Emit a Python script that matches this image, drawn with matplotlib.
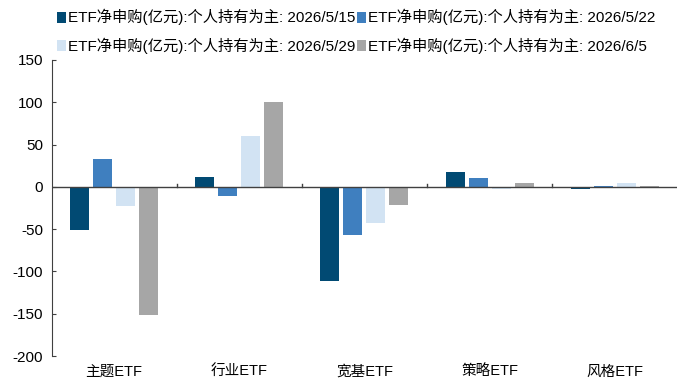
import matplotlib
matplotlib.use("Agg")
import matplotlib.pyplot as plt
import numpy as np
from matplotlib.patches import Patch

plt.rcParams['font.family'] = ['Liberation Sans', 'Noto Sans CJK SC', 'DejaVu Sans']

categories = ["主题ETF", "行业ETF", "宽基ETF", "策略ETF", "风格ETF"]
series_names = [
    "ETF净申购(亿元):个人持有为主: 2026/5/15",
    "ETF净申购(亿元):个人持有为主: 2026/5/22",
    "ETF净申购(亿元):个人持有为主: 2026/5/29",
    "ETF净申购(亿元):个人持有为主: 2026/6/5",
]
s_0515 = [-51, 12, -111, 17, -3]
s_0522 = [33, -11, -57, 10, 1.5]
s_0529 = [-23, 60, -43, -2, 4]
s_0605 = [-152, 100, -22, 5, 1.5]
series = [s_0515, s_0522, s_0529, s_0605]
colors = ["#014a73", "#3f7fbf", "#d2e3f3", "#a6a6a6"]
yticks = [-200, -150, -100, -50, 0, 50, 100, 150]

fig = plt.figure(figsize=(6.78, 3.87), dpi=100)
ax = fig.add_axes([0.076, 0.080, 0.923, 0.765])

x = np.arange(len(categories))
step = 0.184
width = 0.152
for i, (vals, c, name) in enumerate(zip(series, colors, series_names)):
    ax.bar(x + (i - 1.5) * step, vals, width=width, color=c, label=name, zorder=2)

ax.set_xlim(-0.5, len(categories) - 0.5)
ax.set_ylim(-200, 150)
ax.set_yticks(yticks)
ax.set_yticklabels([str(v) for v in yticks], fontsize=11)
ax.set_xticks(x)
ax.set_xticklabels(categories, fontsize=10.5)
ax.tick_params(axis='x', length=0, pad=6)
ax.tick_params(axis='y', length=3, direction='in', color='#404040', pad=6)

for s in ['top', 'right', 'bottom']:
    ax.spines[s].set_visible(False)
ax.spines['left'].set_color('#404040')
ax.axhline(0, color='#404040', lw=1.0, zorder=3)
for b in np.arange(0.5, len(categories) - 0.5, 1.0):
    ax.plot([b, b], [0, 3.5], color='#404040', lw=1.0, zorder=3)

handles = [Patch(facecolor=c, edgecolor='none') for c in colors]
order = [0, 2, 1, 3]
fig.legend([handles[i] for i in order], [series_names[i] for i in order],
           loc='upper left', bbox_to_anchor=(0.07, 1.0),
           ncol=2, frameon=False, fontsize=11, handlelength=0.6, handleheight=0.75,
           handletextpad=0.15, columnspacing=0.1, labelspacing=0.8, borderaxespad=0.2)

fig.savefig("out.png", dpi=100)
